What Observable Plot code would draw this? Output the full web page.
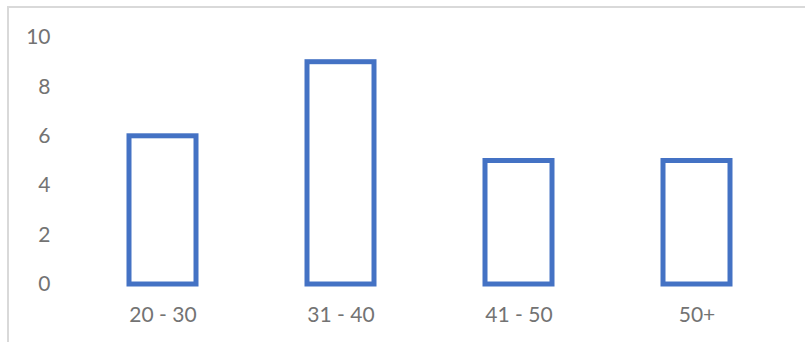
<!DOCTYPE html>
<html>
<head>
<meta charset="utf-8">
<script src="https://cdn.jsdelivr.net/npm/d3@7"></script>
<script src="https://cdn.jsdelivr.net/npm/@observablehq/plot@0.6"></script>
<style>
  html, body { margin: 0; padding: 0; background: #fff; }
  #wrap { position: relative; width: 805px; height: 342px; overflow: hidden; }
  #frame {
    position: absolute; left: 7px; top: 6px; width: 900px; height: 500px;
    border-top: 2px solid #d9d9d9; border-left: 2px solid #d9d9d9;
  }
  #chart { position: absolute; left: 0; top: 0; }
  #chart svg { font-family: Lato, "Open Sans", sans-serif; }
</style>
</head>
<body>
<div id="wrap">
  <div id="frame"></div>
  <div id="chart"></div>
</div>
<script>
// Age groups and their counts
const ageGroups = ["20 - 30", "31 - 40", "41 - 50", "50+"];
const counts = [6, 9, 5, 5];
const yTicks = [0, 2, 4, 6, 8, 10];

const rows = ageGroups.map((group, i) => ({group, count: counts[i]}));

const chart = Plot.plot({
  width: 805,
  height: 342,
  marginLeft: 72,
  marginRight: 19,
  marginTop: 37,
  marginBottom: 58,
  style: {background: "transparent", fontSize: "21px", color: "#737373"},
  x: {domain: ageGroups, paddingInner: 0.625, paddingOuter: 0.3125, label: null},
  y: {domain: [0, 10], label: null},
  marks: [
    Plot.axisY({ticks: yTicks, tickSize: 0, tickPadding: 22, fontSize: 21, label: null}),
    Plot.axisX({tickSize: 0, tickPadding: 23, fontSize: 21, label: null}),
    Plot.barY(rows, {x: "group", y: "count", fill: "white", stroke: "#4472c4", strokeWidth: 5})
  ]
});
document.getElementById("chart").appendChild(chart);
</script>
</body>
</html>
